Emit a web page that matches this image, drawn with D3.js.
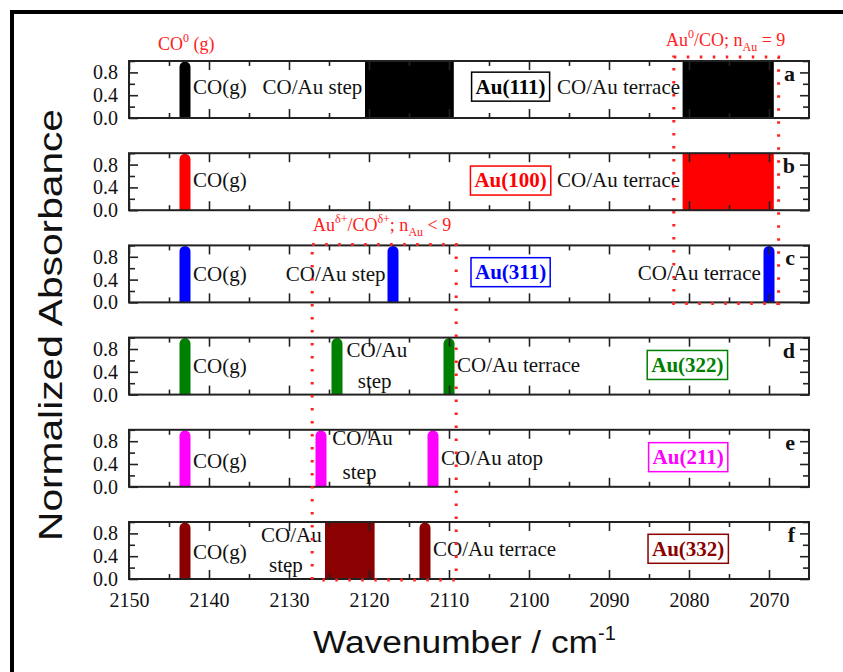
<!DOCTYPE html>
<html>
<head>
<meta charset="utf-8">
<script src="https://cdn.jsdelivr.net/npm/d3@7"></script>
<style>
  html, body { margin: 0; padding: 0; background: #fff; }
  svg { display: block; }
</style>
</head>
<body>
<svg id="chart" width="843" height="672"></svg>
<script>
// ---- data ---------------------------------------------------------------
const xTickValues = [2150, 2140, 2130, 2120, 2110, 2100, 2090, 2080, 2070];
const xMinorValues = [2145, 2135, 2125, 2115, 2105, 2095, 2085, 2075];
const yTickValues = [0.0, 0.4, 0.8];
const yMinorValues = [0.2, 0.6, 1.0];

const facets = ["Au(111)", "Au(100)", "Au(311)", "Au(322)", "Au(211)", "Au(332)"];
const panelLetters = ["a", "b", "c", "d", "e", "f"];
const facetColors = ["#000000", "#ff0000", "#0000ff", "#008000", "#ff00ff", "#8b0000"];

// sharp CO bands (cm-1), normalized height 1
const sharpPeaks = [
  [2143],
  [2143],
  [2143, 2117, 2070],
  [2143, 2124, 2110],
  [2143, 2126, 2112],
  [2143, 2113]
];
// broad CO bands as [high, low] wavenumber ranges (cm-1)
const broadBands = [
  [[2120.5, 2109.4], [2080.8, 2069.4]],
  [[2080.8, 2069.4]],
  [],
  [],
  [],
  [[2125.5, 2119.3]]
];
const peakHeight = 1.0;

// per-panel band labels: text, wavenumber of left edge, absorbance of centre line
const bandLabels = [
  [["CO(g)", 2142, 0.55], ["CO/Au step", 2133.3, 0.55], ["CO/Au terrace", 2096.5, 0.55]],
  [["CO(g)", 2142, 0.52], ["CO/Au terrace", 2096.5, 0.52]],
  [["CO(g)", 2142, 0.50], ["CO/Au step", 2130.4, 0.50], ["CO/Au terrace", 2086.4, 0.52]],
  [["CO(g)", 2142, 0.50], ["CO/Au", 2122.8, 0.78], ["step", 2121.4, 0.23], ["CO/Au terrace", 2109, 0.52]],
  [["CO(g)", 2142, 0.45], ["CO/Au", 2124.6, 0.85], ["step", 2123.3, 0.25], ["CO/Au atop", 2111, 0.51]],
  [["CO(g)", 2142, 0.47], ["CO/Au", 2133.5, 0.77], ["step", 2132.5, 0.24], ["CO/Au terrace", 2112, 0.53]]
];
// facet name badge: wavenumber of centre, absorbance of centre
const facetBadgeAt = [[2102.3, 0.55], [2102.3, 0.52], [2102.3, 0.53], [2080.2, 0.52], [2080.1, 0.52], [2080.1, 0.53]];

// highlighted regions: wavenumber range and the panels they span
const regionRanges = [[2081.9, 2068.8], [2127.1, 2109.1]];
const regionPanels = [[0, 2], [2, 5]];

// ---- layout -------------------------------------------------------------
const svg = d3.select("#chart");
const left = 129, right = 809;
const panelTop0 = 61, panelStep = 92.2, panelH = 57;

const x = d3.scaleLinear().domain([2150, 2065]).range([left, right]);
const panelTop = i => panelTop0 + i * panelStep;
const yFor = i => d3.scaleLinear().domain([0, 1.0]).range([panelTop(i) + panelH, panelTop(i)]);

const axisColor = "#222";
const serif = '"Liberation Serif", "Times New Roman", serif';
const sans = '"Liberation Sans", Arial, sans-serif';

// outer figure border
svg.append("line").attr("x1", 10).attr("x2", 843).attr("y1", 12).attr("y2", 12)
  .attr("stroke", "#000").attr("stroke-width", 4);
svg.append("line").attr("x1", 12).attr("x2", 12).attr("y1", 10).attr("y2", 672)
  .attr("stroke", "#000").attr("stroke-width", 4);

const defs = svg.append("defs");

facets.forEach((name, i) => {
  const y = yFor(i);
  const top = panelTop(i), bottom = top + panelH;
  const color = facetColors[i];
  const g = svg.append("g").attr("class", "panel");

  defs.append("clipPath").attr("id", "clip" + i)
    .append("rect").attr("x", left).attr("y", top).attr("width", right - left).attr("height", panelH);

  const marks = g.append("g").attr("clip-path", `url(#clip${i})`);

  // broad bands
  marks.selectAll("rect.broad").data(broadBands[i]).join("rect")
    .attr("class", "broad")
    .attr("x", d => x(d[0]))
    .attr("width", d => x(d[1]) - x(d[0]))
    .attr("y", y(peakHeight))
    .attr("height", y(0) - y(peakHeight))
    .attr("fill", color);

  // sharp bands with rounded tops
  marks.selectAll("rect.sharp").data(sharpPeaks[i]).join("rect")
    .attr("class", "sharp")
    .attr("x", d => x(d) - 5.5)
    .attr("width", 11)
    .attr("y", y(peakHeight) + 0.5)
    .attr("height", y(0) - y(peakHeight) + 8)
    .attr("rx", 5.5)
    .attr("fill", color);

  // axes: inward ticks on all four sides
  const styleAxis = sel => {
    sel.select(".domain").remove();
    sel.selectAll("line").attr("stroke", axisColor).attr("stroke-width", 1.6);
    sel.selectAll("text").attr("font-family", serif).attr("font-size", 20).attr("fill", "#111");
  };
  g.append("g").attr("transform", `translate(0,${bottom})`)
    .call(d3.axisBottom(x).tickValues(xMinorValues).tickSize(-5).tickFormat(""))
    .call(styleAxis);
  const bottomAxis = g.append("g").attr("transform", `translate(0,${bottom})`)
    .call(d3.axisBottom(x).tickValues(xTickValues).tickSize(-9).tickPadding(14).tickFormat(d3.format("d")))
    .call(styleAxis);
  if (i < facets.length - 1) bottomAxis.selectAll("text").remove();

  g.append("g").attr("transform", `translate(0,${top})`)
    .call(d3.axisTop(x).tickValues(xMinorValues).tickSize(-5).tickFormat(""))
    .call(styleAxis);
  g.append("g").attr("transform", `translate(0,${top})`)
    .call(d3.axisTop(x).tickValues(xTickValues).tickSize(-9).tickFormat(""))
    .call(styleAxis);

  g.append("g").attr("transform", `translate(${left},0)`)
    .call(d3.axisLeft(y).tickValues(yTickValues).tickSize(-9).tickPadding(11).tickFormat(d3.format(".1f")))
    .call(styleAxis);
  g.append("g").attr("transform", `translate(${left},0)`)
    .call(d3.axisLeft(y).tickValues(yMinorValues).tickSize(-6).tickFormat(""))
    .call(styleAxis);
  g.append("g").attr("transform", `translate(${right},0)`)
    .call(d3.axisRight(y).tickValues(yTickValues).tickSize(-9).tickFormat(""))
    .call(styleAxis);
  g.append("g").attr("transform", `translate(${right},0)`)
    .call(d3.axisRight(y).tickValues(yMinorValues).tickSize(-6).tickFormat(""))
    .call(styleAxis);

  // panel frame
  g.append("rect").attr("x", left).attr("y", top).attr("width", right - left).attr("height", panelH)
    .attr("fill", "none").attr("stroke", axisColor).attr("stroke-width", 2);

  // band labels
  g.selectAll("text.band").data(bandLabels[i]).join("text")
    .attr("class", "band")
    .attr("x", d => x(d[1]))
    .attr("y", d => y(d[2]))
    .attr("dy", "0.33em")
    .attr("font-family", serif).attr("font-size", 21).attr("fill", "#111")
    .text(d => d[0]);

  // facet badge
  const [bw, ba] = facetBadgeAt[i];
  const badge = g.append("g");
  const bt = badge.append("text")
    .attr("x", x(bw)).attr("y", y(ba)).attr("dy", "0.33em")
    .attr("text-anchor", "middle")
    .attr("font-family", serif).attr("font-size", 21).attr("font-weight", "bold")
    .attr("fill", color).text(name);
  const bb = bt.node().getBBox();
  badge.insert("rect", "text")
    .attr("x", bb.x - 4).attr("y", y(ba) - 14.5)
    .attr("width", bb.width + 8).attr("height", 29)
    .attr("fill", "#fff").attr("stroke", color).attr("stroke-width", 1.5);

  // panel letter
  g.append("text").attr("x", right - 14).attr("y", top + 20)
    .attr("text-anchor", "end")
    .attr("font-family", serif).attr("font-size", 22).attr("font-weight", "bold").attr("fill", "#111")
    .text(panelLetters[i]);
});

// dotted highlight regions
const red = "#ff2020";
regionRanges.forEach((r, k) => {
  const [p0, p1] = regionPanels[k];
  const yTop = k === 0 ? panelTop(p0) - 4 : panelTop(p0) - 1;
  const yBot = panelTop(p1) + panelH + 1;
  svg.append("rect")
    .attr("x", x(r[0])).attr("y", yTop)
    .attr("width", x(r[1]) - x(r[0])).attr("height", yBot - yTop)
    .attr("fill", "none").attr("stroke", red).attr("stroke-width", 3)
    .attr("stroke-dasharray", "2.5 10.5");
});

// red annotations
const ann = svg.append("g").attr("font-family", serif).attr("fill", red).attr("font-size", 18);
const t1 = ann.append("text").attr("x", 158).attr("y", 50);
t1.append("tspan").text("CO");
t1.append("tspan").attr("dy", -8).attr("font-size", 12).text("0");
t1.append("tspan").attr("dy", 8).text(" (g)");

const t2 = ann.append("text").attr("x", 666).attr("y", 46);
t2.append("tspan").text("Au");
t2.append("tspan").attr("dy", -8).attr("font-size", 12).text("0");
t2.append("tspan").attr("dy", 8).text("/CO; n");
t2.append("tspan").attr("dy", 5).attr("font-size", 12).text("Au");
t2.append("tspan").attr("dy", -5).text(" = 9");

const t3 = ann.append("text").attr("x", 313).attr("y", 231);
t3.append("tspan").text("Au");
t3.append("tspan").attr("dy", -8).attr("font-size", 12).text("δ+");
t3.append("tspan").attr("dy", 8).text("/CO");
t3.append("tspan").attr("dy", -8).attr("font-size", 12).text("δ+");
t3.append("tspan").attr("dy", 8).text("; n");
t3.append("tspan").attr("dy", 5).attr("font-size", 12).text("Au");
t3.append("tspan").attr("dy", -5).text(" < 9");

// axis titles
const xt = svg.append("text").attr("x", 313).attr("y", 653)
  .attr("font-family", sans).attr("font-size", 31).attr("fill", "#111");
xt.append("tspan").attr("textLength", 285).attr("lengthAdjust", "spacingAndGlyphs").text("Wavenumber / cm");
xt.append("tspan").attr("dy", -13).attr("font-size", 20).text("-1");

svg.append("text")
  .attr("transform", "translate(62,325) rotate(-90)")
  .attr("text-anchor", "middle")
  .attr("font-family", sans).attr("font-size", 33)
  .attr("textLength", 432).attr("lengthAdjust", "spacingAndGlyphs")
  .attr("fill", "#111")
  .text("Normalized Absorbance");
</script>
</body>
</html>
